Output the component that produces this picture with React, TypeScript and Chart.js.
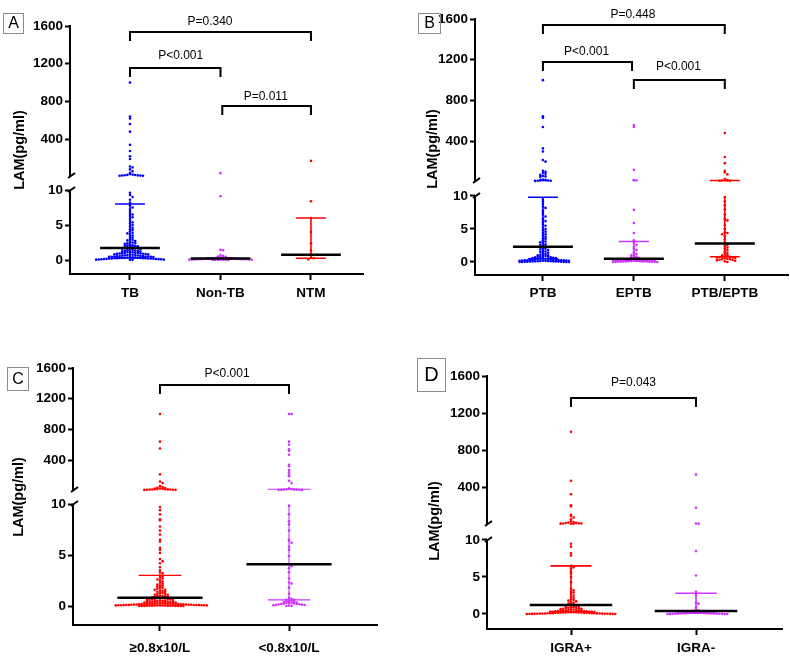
import React, { useEffect, useRef } from 'react';
import { Chart, registerables, LinearScale } from 'chart.js';

Chart.register(...registerables);
Chart.defaults.font.family = "'Liberation Sans', Arial, sans-serif";

// ---------- data ----------
const Y_TICKS = [0, 5, 10, 400, 800, 1200, 1600];

// Panel A
const A_CATEGORIES = ['TB', 'Non-TB', 'NTM'];
const A_TB = [
  1000, 640, 620, 560, 480, 340, 275, 220, 190, 110, 100, 80, 60, 45, 30, 25, 22, 20, 18, 16, 15, 14, 13, 12,
  9.6, 9.3, 9.0, 8.6, 8.2, 7.8, 7.5, 7.2, 6.9, 6.6, 6.5, 6.3, 6.1, 5.9, 5.6, 5.4, 5.2, 5.0,
  4.8, 4.6, 4.4, 4.3, 4.1, 3.9, 3.8, 3.6, 3.5, 3.3, 3.2, 3.0,
  2.9, 2.8, 2.7, 2.6, 2.5, 2.4, 2.4, 2.3, 2.2, 2.1, 2.1, 2.0, 2.0,
  1.95, 1.9, 1.85, 1.8, 1.75, 1.7, 1.7, 1.6, 1.55, 1.5, 1.45, 1.4, 1.35, 1.3, 1.3, 1.25, 1.2, 1.15, 1.1, 1.1, 1.05, 1.0, 1.0,
  0.98, 0.95, 0.92, 0.9, 0.88, 0.85, 0.82, 0.8, 0.78, 0.75, 0.72, 0.7, 0.68, 0.65, 0.62, 0.6, 0.58, 0.55, 0.52, 0.5, 0.5,
  0.48, 0.46, 0.45, 0.44, 0.42, 0.4, 0.38, 0.36, 0.35, 0.33, 0.32, 0.3, 0.3, 0.28, 0.26, 0.25, 0.25, 0.24, 0.22,
  0.21, 0.2, 0.2, 0.18, 0.16, 0.15, 0.14, 0.12, 0.11, 0.1, 0.08, 0.06, 0.05, 0.04, 0.02,
];
const A_NON_TB = [
  40, 9.1, 1.45, 1.4, 0.7, 0.6, 0.5, 0.45, 0.4, 0.35, 0.3, 0.28, 0.25, 0.24, 0.22, 0.2, 0.2, 0.18, 0.17, 0.16,
  0.15, 0.14, 0.13, 0.12, 0.11, 0.1, 0.1, 0.09, 0.08, 0.07, 0.06, 0.05, 0.05, 0.04, 0.03, 0.02, 0.02, 0.01, 0.01,
  0.0,
];
const A_NTM = [170, 8.4, 6.0, 4.0, 2.4, 1.4, 0.8, 0.3, 0.25, 0.1];
const A_MEDIAN = [1.7, 0.2, 0.76];
const A_Q1 = [0.3, 0.1, 0.25];
const A_Q3 = [8.0, 0.3, 6.0];
const A_P = ['P=0.340', 'P<0.001', 'P=0.011'];

// Panel B
const B_CATEGORIES = ['PTB', 'EPTB', 'PTB/EPTB'];
const B_PTB = [
  1000, 645, 630, 540, 330, 300, 215, 200, 110, 100, 90, 80, 70, 60, 55, 50, 25, 22, 20, 18, 16, 15, 14, 13, 12, 11,
  9.6, 9.2, 8.8, 8.4, 8.2, 7.8, 7.5, 7.2, 6.9, 6.6, 6.4, 6.2, 6.0, 5.7, 5.5, 5.2, 5.0, 4.8, 4.6, 4.4, 4.2, 4.0,
  3.8, 3.6, 3.5, 3.3, 3.1, 3.0, 2.9, 2.7, 2.6, 2.5, 2.3, 2.2, 2.1, 2.0, 1.9, 1.8, 1.7, 1.6, 1.5, 1.4, 1.3, 1.2,
  1.1, 1.0, 1.0, 0.9, 0.9, 0.8, 0.8, 0.75, 0.7, 0.7, 0.65, 0.6, 0.6, 0.55, 0.5, 0.5, 0.5, 0.45, 0.4, 0.4, 0.35,
  0.32, 0.3, 0.3, 0.28, 0.27, 0.26, 0.25, 0.24, 0.22, 0.21, 0.2, 0.2, 0.18, 0.16, 0.15, 0.14, 0.12, 0.11, 0.1,
  0.1, 0.09, 0.08, 0.07, 0.06, 0.05, 0.04, 0.03, 0.02, 0.01, 0.0, 0.0, 0.0,
];
const B_EPTB = [
  560, 540, 120, 20, 18, 15,
  7.9, 5.9, 4.4, 3.3, 2.9, 2.6, 2.3, 2.0, 1.8, 1.5, 1.3, 1.2, 1.0, 0.9, 0.8, 0.7, 0.6, 0.55, 0.5, 0.45, 0.4, 0.4,
  0.38, 0.35, 0.33, 0.3, 0.3, 0.28, 0.27, 0.25, 0.24, 0.22, 0.2, 0.2, 0.18, 0.16, 0.15, 0.14, 0.12, 0.1, 0.1,
  0.09, 0.08, 0.07, 0.06, 0.05, 0.04, 0.03, 0.02, 0.01, 0.0, 0.0,
];
const B_PTB_EPTB = [
  1000, 480, 245, 185, 110, 95, 75, 30, 20, 18, 16, 15, 13, 12,
  9.8, 9.2, 8.6, 8.0, 7.2, 6.6, 6.4, 6.3, 5.6, 5.0, 4.5, 4.4, 4.2, 3.9, 3.4, 3.0, 2.8, 2.6, 2.4, 2.2, 2.0, 1.8,
  1.6, 1.4, 1.3, 1.1, 1.0, 0.9, 0.85, 0.8, 0.8, 0.75, 0.7, 0.65, 0.6, 0.55, 0.5, 0.45, 0.4, 0.35, 0.3, 0.25, 0.2,
  0.1, 0.0,
];
const B_MEDIAN = [2.3, 0.5, 2.8];
const B_Q1 = [0.5, 0.2, 0.8];
const B_Q3 = [9.8, 3.1, 15];
const B_P = ['P=0.448', 'P<0.001', 'P<0.001'];

// Panel C
const C_CATEGORIES = ['≥0.8x10/L', '<0.8x10/L'];
const C_HIGH = [
  1000, 640, 550, 215, 120, 100, 60, 50, 40, 35, 30, 28, 25, 22, 20, 20, 18, 17, 16, 15, 14, 13, 12, 11,
  9.7, 9.4, 9.0, 8.5, 8.4, 7.8, 7.4, 7.0, 6.5, 6.3, 5.7, 5.5, 5.2, 4.6, 4.4, 4.2, 3.8, 3.5, 3.3, 3.2, 3.0, 2.9,
  2.8, 2.7, 2.6, 2.5, 2.4, 2.3, 2.2, 2.1, 2.0, 2.0, 1.9, 1.8, 1.8, 1.7, 1.6, 1.6, 1.5, 1.5, 1.4, 1.4, 1.3, 1.3,
  1.2, 1.2, 1.1, 1.1, 1.0, 1.0, 1.0, 0.95, 0.9, 0.9, 0.85, 0.8, 0.8, 0.8, 0.75, 0.7, 0.7, 0.7, 0.65, 0.6, 0.6,
  0.6, 0.55, 0.5, 0.5, 0.5, 0.5, 0.45, 0.45, 0.4, 0.4, 0.4, 0.4, 0.35, 0.35, 0.3, 0.3, 0.3, 0.3, 0.28, 0.26, 0.25,
  0.25, 0.24, 0.22, 0.21, 0.2, 0.2, 0.2, 0.19, 0.18, 0.17, 0.16, 0.15, 0.15, 0.14, 0.13, 0.12, 0.12, 0.11, 0.1,
  0.1, 0.1, 0.09, 0.09, 0.08, 0.08, 0.07, 0.07, 0.06, 0.06, 0.05, 0.05, 0.05, 0.04, 0.04, 0.03, 0.03, 0.03, 0.02,
  0.02, 0.02, 0.01, 0.01, 0.01, 0.0, 0.0, 0.0, 0.0,
];
const C_LOW = [
  1000, 1000, 640, 600, 540, 520, 470, 340, 320, 270, 240, 210, 190, 130, 100, 30, 25, 22, 20, 18, 16, 15, 14, 13,
  12, 11,
  9.8, 9.0, 8.3, 8.0, 7.4, 6.5, 6.4, 6.2, 5.8, 5.5, 4.9, 4.1, 3.9, 3.7, 3.3, 2.7, 2.3, 2.2, 1.8, 1.2, 0.8, 0.7,
  0.6, 0.6, 0.5, 0.5, 0.45, 0.4, 0.4, 0.35, 0.3, 0.3, 0.3, 0.25, 0.22, 0.2, 0.2, 0.18, 0.15, 0.12, 0.1, 0.1, 0.08,
  0.05, 0.03, 0.0,
];
const C_MEDIAN = [0.8, 4.1];
const C_Q1 = [0.1, 0.6];
const C_Q3 = [3.0, 20];
const C_P = ['P<0.001'];

// Panel D
const D_CATEGORIES = ['IGRA+', 'IGRA-'];
const D_POS = [
  1000, 475, 330, 210, 200, 110, 95, 80, 60, 40, 30, 25, 22, 20, 18, 16, 15, 14, 13, 12,
  9.5, 9.1, 8.2, 7.9, 6.5, 6.3, 6.1, 5.7, 5.5, 5.0, 4.3, 3.4, 3.2, 3.0, 2.9, 2.7, 2.5, 2.3, 2.2, 2.0, 1.9, 1.8,
  1.7, 1.6, 1.5, 1.4, 1.3, 1.2, 1.2, 1.1, 1.0, 1.0, 0.9, 0.9, 0.85, 0.8, 0.8, 0.75, 0.7, 0.7, 0.65, 0.6, 0.6,
  0.55, 0.5, 0.5, 0.5, 0.45, 0.45, 0.4, 0.4, 0.4, 0.35, 0.35, 0.3, 0.3, 0.3, 0.3, 0.28, 0.25, 0.25, 0.25, 0.22,
  0.2, 0.2, 0.2, 0.2, 0.18, 0.15, 0.15, 0.15, 0.15, 0.12, 0.1, 0.1, 0.1, 0.1, 0.09, 0.08, 0.07, 0.06, 0.05, 0.05,
  0.05, 0.04, 0.03, 0.03, 0.02, 0.02, 0.01, 0.01, 0.0, 0.0, 0.0,
];
const D_NEG = [
  540, 185, 15, 14,
  8.5, 5.2, 3.0, 2.6, 1.5, 1.4, 0.9, 0.6, 0.5, 0.4, 0.35, 0.3, 0.3, 0.28, 0.25, 0.22, 0.2, 0.2, 0.18, 0.15, 0.14,
  0.12, 0.1, 0.1, 0.09, 0.08, 0.07, 0.06, 0.05, 0.04, 0.04, 0.03, 0.02, 0.02, 0.01, 0.0, 0.0, 0.0,
];
const D_MEDIAN = [1.2, 0.4];
const D_Q1 = [0.3, 0.1];
const D_Q3 = [6.5, 2.8];
const D_P = ['P=0.043'];

// ---------- styling ----------
const BLUE = '#0000ff';
const PURPLE = '#cc33ff';
const RED = '#ff0000';

const DOT_PX = 2.6; // horizontal spacing of dots sharing a row
const ROW_PX = 2.6; // vertical size of a swarm row
const MEDIAN_HALF = 0.33;
const CAP_HALF = 0.165;

type Brk = { lowMin: number; lowMax: number; highMax: number; lowFrac: number; gapFrac: number };
type Bracket = { from: number; to: number; y: number; label: string; textX: number; textDy: number };
type Panel = {
  letter: string;
  letterBox: { x: number; y: number; w: number; h: number; size: number };
  left: number; top: number; w: number; h: number;
  area: { l: number; t: number; r: number; b: number };
  xMin: number; xMax: number;
  brk: Brk;
  categories: string[];
  groups: number[][];
  colors: string[];
  medians: number[]; q1: number[]; q3: number[];
  brackets: Bracket[];
  title: { x: number; y: number };
  labelPad: number;
  errWidth: number;
};

// Broken value axis: a lower band (lowMin..lowMax) and an upper band (lowMax..highMax)
function toDecimal(v: number, b: Brk) {
  if (v <= b.lowMax) return ((v - b.lowMin) / (b.lowMax - b.lowMin)) * b.lowFrac;
  const hf = 1 - b.lowFrac - b.gapFrac;
  return b.lowFrac + b.gapFrac + ((v - b.lowMax) / (b.highMax - b.lowMax)) * hf;
}
function fromDecimal(d: number, b: Brk) {
  if (d <= b.lowFrac) return b.lowMin + (d / b.lowFrac) * (b.lowMax - b.lowMin);
  const hf = 1 - b.lowFrac - b.gapFrac;
  return b.lowMax + ((d - b.lowFrac - b.gapFrac) / hf) * (b.highMax - b.lowMax);
}

const BREAKS = new WeakMap<HTMLCanvasElement, Brk>();

class BrokenScale extends LinearScale {
  static id = 'broken';
  static defaults = LinearScale.defaults;
  getPixelForValue(value: number) {
    const b = BREAKS.get(this.chart.canvas);
    if (value === null || value === undefined || isNaN(value)) return NaN;
    if (!b) return super.getPixelForValue(value);
    return this.getPixelForDecimal(toDecimal(value, b));
  }
  getValueForPixel(pixel: number) {
    const b = BREAKS.get(this.chart.canvas);
    if (!b) return super.getValueForPixel(pixel);
    return fromDecimal(this.getDecimalForPixel(pixel), b);
  }
}
Chart.register(BrokenScale as any);

const PANELS: Panel[] = [
  {
    letter: 'A', letterBox: { x: 3, y: 13, w: 20, h: 20, size: 16 },
    left: 0, top: 0, w: 395, h: 320,
    area: { l: 70, t: 26, r: 363, b: 274 },
    xMin: -0.663, xMax: 2.575,
    brk: { lowMin: -2, lowMax: 10, highMax: 1600, lowFrac: 0.3387, gapFrac: 0.0565 },
    categories: A_CATEGORIES,
    groups: [A_TB, A_NON_TB, A_NTM],
    colors: [BLUE, PURPLE, RED],
    medians: A_MEDIAN, q1: A_Q1, q3: A_Q3,
    brackets: [
      { from: 0, to: 2, y: 1536, label: A_P[0], textX: 0.884, textDy: 10 },
      { from: 0, to: 1, y: 1155, label: A_P[1], textX: 0.56, textDy: 12 },
      { from: 1.02, to: 2, y: 752, label: A_P[2], textX: 1.5, textDy: 9 },
    ],
    title: { x: 20, y: 150 },
    labelPad: 5,
    errWidth: 1.6,
  },
  {
    letter: 'B', letterBox: { x: 23, y: 13, w: 22, h: 20, size: 16 },
    left: 395, top: 0, w: 395, h: 320,
    area: { l: 80, t: 19, r: 394, b: 275 },
    xMin: -0.747, xMax: 2.703,
    brk: { lowMin: -1.97, lowMax: 10, highMax: 1600, lowFrac: 0.3086, gapFrac: 0.0586 },
    categories: B_CATEGORIES,
    groups: [B_PTB, B_EPTB, B_PTB_EPTB],
    colors: [BLUE, PURPLE, RED],
    medians: B_MEDIAN, q1: B_Q1, q3: B_Q3,
    brackets: [
      { from: 0, to: 2, y: 1541, label: B_P[0], textX: 0.99, textDy: 10 },
      { from: 0, to: 0.98, y: 1178, label: B_P[1], textX: 0.48, textDy: 10 },
      { from: 1.0, to: 2, y: 1001, label: B_P[2], textX: 1.49, textDy: 13 },
    ],
    title: { x: 38, y: 149 },
    labelPad: 4,
    errWidth: 1.6,
  },
  {
    letter: 'C', letterBox: { x: 7, y: 47, w: 21, h: 23, size: 16 },
    left: 0, top: 320, w: 395, h: 337,
    area: { l: 73, t: 48, r: 377, b: 305 },
    xMin: -0.674, xMax: 1.682,
    brk: { lowMin: -1.86, lowMax: 10, highMax: 1600, lowFrac: 0.4708, gapFrac: 0.0545 },
    categories: C_CATEGORIES,
    groups: [C_HIGH, C_LOW],
    colors: [RED, PURPLE],
    medians: C_MEDIAN, q1: C_Q1, q3: C_Q3,
    brackets: [{ from: 0, to: 1, y: 1379, label: C_P[0], textX: 0.52, textDy: 11 }],
    title: { x: 19, y: 177 },
    labelPad: 9,
    errWidth: 1.1,
  },
  {
    letter: 'D', letterBox: { x: 22, y: 38, w: 28, h: 33, size: 20 },
    left: 395, top: 320, w: 395, h: 337,
    area: { l: 92, t: 56, r: 387, b: 309 },
    xMin: -0.672, xMax: 1.688,
    brk: { lowMin: -2.03, lowMax: 10, highMax: 1600, lowFrac: 0.3518, gapFrac: 0.0632 },
    categories: D_CATEGORIES,
    groups: [D_POS, D_NEG],
    colors: [RED, PURPLE],
    medians: D_MEDIAN, q1: D_Q1, q3: D_Q3,
    brackets: [{ from: 0, to: 1, y: 1363, label: D_P[0], textX: 0.5, textDy: 15 }],
    title: { x: 40, y: 201 },
    labelPad: 5,
    errWidth: 1.6,
  },
];

// Scatter-dot layout: values falling in the same pixel row are spread sideways
function swarm(values: number[], cat: number, p: Panel) {
  const H = p.area.b - p.area.t;
  const pxPerX = (p.area.r - p.area.l) / (p.xMax - p.xMin);
  const rows = new Map<number, number>();
  return values.map((v) => {
    const row = Math.round((toDecimal(v, p.brk) * H) / ROW_PX);
    const k = rows.get(row) ?? 0;
    rows.set(row, k + 1);
    const step = Math.ceil(k / 2) * (k % 2 === 1 ? 1 : -1);
    return { x: cat + (step * DOT_PX) / pxPerX, y: v };
  });
}

function decorPlugin(p: Panel) {
  return {
    id: 'decor' + p.letter,
    afterDatasetsDraw(chart: any) {
      const { ctx } = chart;
      const xs = chart.scales.x;
      const ys = chart.scales.y;
      const upperStart = ys.getPixelForDecimal(p.brk.lowFrac + p.brk.gapFrac);
      ctx.save();
      p.groups.forEach((_, i) => {
        const cx = xs.getPixelForValue(i);
        ctx.strokeStyle = p.colors[i];
        ctx.lineWidth = p.errWidth;
        ctx.beginPath();
        const lo = ys.getPixelForValue(p.q1[i]);
        if (p.q3[i] <= p.brk.lowMax) {
          ctx.moveTo(cx, lo);
          ctx.lineTo(cx, ys.getPixelForValue(p.q3[i]));
        } else {
          ctx.moveTo(cx, lo);
          ctx.lineTo(cx, ys.getPixelForValue(p.brk.lowMax));
          ctx.moveTo(cx, upperStart);
          ctx.lineTo(cx, ys.getPixelForValue(p.q3[i]));
        }
        const c1 = xs.getPixelForValue(i - CAP_HALF);
        const c2 = xs.getPixelForValue(i + CAP_HALF);
        for (const q of [p.q1[i], p.q3[i]]) {
          const y = ys.getPixelForValue(q);
          ctx.moveTo(c1, y);
          ctx.lineTo(c2, y);
        }
        ctx.stroke();
        ctx.strokeStyle = '#000';
        ctx.lineWidth = 2.5;
        ctx.beginPath();
        const my = ys.getPixelForValue(p.medians[i]);
        ctx.moveTo(xs.getPixelForValue(i - MEDIAN_HALF), my);
        ctx.lineTo(xs.getPixelForValue(i + MEDIAN_HALF), my);
        ctx.stroke();
      });
      ctx.restore();
    },
    afterDraw(chart: any) {
      const { ctx, chartArea } = chart;
      const xs = chart.scales.x;
      const ys = chart.scales.y;
      ctx.save();
      // broken value axis
      const ax = chartArea.left;
      const lowTop = ys.getPixelForValue(p.brk.lowMax);
      const upperStart = ys.getPixelForDecimal(p.brk.lowFrac + p.brk.gapFrac);
      ctx.strokeStyle = '#000';
      ctx.lineWidth = 2;
      ctx.beginPath();
      ctx.moveTo(ax, chartArea.bottom + 1);
      ctx.lineTo(ax, lowTop);
      ctx.moveTo(ax, upperStart);
      ctx.lineTo(ax, chartArea.top - 1);
      for (const y of [lowTop, upperStart]) {
        ctx.moveTo(ax - 2, y + 2);
        ctx.lineTo(ax + 5, y - 3);
      }
      ctx.stroke();

      // comparison brackets
      ctx.lineWidth = 2;
      ctx.fillStyle = '#000';
      ctx.font = "12px 'Liberation Sans', Arial, sans-serif";
      ctx.textAlign = 'center';
      ctx.textBaseline = 'middle';
      for (const br of p.brackets) {
        const y = ys.getPixelForValue(br.y);
        const x1 = xs.getPixelForValue(br.from);
        const x2 = xs.getPixelForValue(br.to);
        ctx.beginPath();
        ctx.moveTo(x1, y + 9);
        ctx.lineTo(x1, y);
        ctx.lineTo(x2, y);
        ctx.lineTo(x2, y + 9);
        ctx.stroke();
        ctx.fillText(br.label, xs.getPixelForValue(br.textX), y - br.textDy);
      }

      // value axis title
      ctx.save();
      ctx.translate(p.title.x, p.title.y);
      ctx.rotate(-Math.PI / 2);
      ctx.font = "bold 14.5px 'Liberation Sans', Arial, sans-serif";
      ctx.fillText('LAM(pg/ml)', 0, 0);
      ctx.restore();

      // panel letter
      const lb = p.letterBox;
      ctx.strokeStyle = '#8c8c8c';
      ctx.lineWidth = 1;
      ctx.strokeRect(lb.x + 0.5, lb.y + 0.5, lb.w, lb.h);
      ctx.font = `${lb.size}px 'Liberation Sans', Arial, sans-serif`;
      ctx.fillText(p.letter, lb.x + lb.w / 2 + 0.5, lb.y + lb.h / 2 + 1);
      ctx.restore();
    },
  };
}

function buildConfig(p: Panel): any {
  return {
    type: 'scatter',
    data: {
      datasets: p.groups.map((vals, i) => ({
        label: p.categories[i],
        data: swarm(vals, i, p),
        backgroundColor: p.colors[i],
        borderWidth: 0,
        pointRadius: 1.3,
        pointHoverRadius: 1.3,
      })),
    },
    options: {
      responsive: false,
      animation: false,
      devicePixelRatio: 1,
      events: [],
      layout: { padding: { top: p.area.t, right: p.w - p.area.r, left: 0, bottom: 0 } },
      plugins: { legend: { display: false }, tooltip: { enabled: false } },
      scales: {
        x: {
          type: 'linear',
          min: p.xMin,
          max: p.xMax,
          afterBuildTicks: (s: any) => {
            s.ticks = p.categories.map((_, i) => ({ value: i }));
          },
          afterFit: (s: any) => {
            s.height = p.h - p.area.b;
          },
          ticks: {
            callback: (v: number) => p.categories[v] ?? '',
            font: { size: 13.5, weight: 'bold' },
            color: '#000',
            padding: p.labelPad,
            autoSkip: false,
            maxRotation: 0,
          },
          grid: { display: true, drawOnChartArea: false, drawTicks: true, tickLength: 6, tickWidth: 2, tickColor: '#000' },
          border: { display: true, color: '#000', width: 2 },
        },
        y: {
          type: 'broken',
          min: p.brk.lowMin,
          max: p.brk.highMax,
          afterBuildTicks: (s: any) => {
            s.ticks = Y_TICKS.map((v) => ({ value: v }));
          },
          afterFit: (s: any) => {
            s.width = p.area.l;
          },
          ticks: {
            callback: (v: number) => String(v),
            font: { size: 13.5, weight: 'bold' },
            color: '#000',
            padding: 2,
            autoSkip: false,
          },
          grid: { display: true, drawOnChartArea: false, drawTicks: true, tickLength: 5, tickWidth: 2, tickColor: '#000' },
          border: { display: false },
        },
      },
    },
    plugins: [decorPlugin(p)],
  };
}

function PanelChart({ p }: { p: Panel }) {
  const ref = useRef<HTMLCanvasElement>(null);
  useEffect(() => {
    const canvas = ref.current;
    if (!canvas) return;
    BREAKS.set(canvas, p.brk);
    const chart = new Chart(canvas, buildConfig(p));
    return () => chart.destroy();
  }, [p]);
  return (
    <canvas
      ref={ref}
      width={p.w}
      height={p.h}
      style={{ position: 'absolute', left: p.left, top: p.top, width: p.w, height: p.h }}
    />
  );
}

export default function App() {
  return (
    <div style={{ position: 'fixed', left: 0, top: 0, width: 790, height: 657, background: '#fff', overflow: 'hidden' }}>
      {PANELS.map((p) => (
        <PanelChart key={p.letter} p={p} />
      ))}
    </div>
  );
}
